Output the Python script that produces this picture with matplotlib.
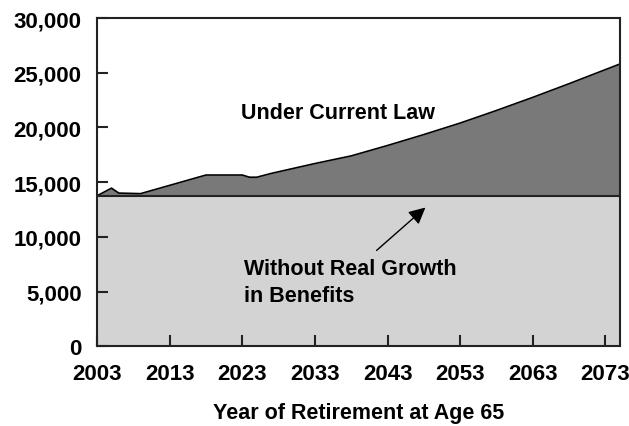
import matplotlib.pyplot as plt

plt.rcParams['font.family'] = ['Liberation Sans', 'DejaVu Sans']
plt.rcParams['font.weight'] = 'bold'

# Benefit levels
years = [2003, 2005, 2006, 2009, 2018, 2023, 2024, 2025, 2027, 2033, 2038,
         2043, 2048, 2053, 2058, 2063, 2068, 2075]
current_law = [13750, 14450, 14000, 13950, 15650, 15650, 15450, 15450, 15800,
               16700, 17400, 18350, 19350, 20400, 21550, 22750, 24000, 25800]
no_growth = 13750

xticks = [2003, 2013, 2023, 2033, 2043, 2053, 2063, 2073]
yticks = [0, 5000, 10000, 15000, 20000, 25000, 30000]

fig = plt.figure(figsize=(6.29, 4.27), dpi=100)
ax = fig.add_axes([0.1542, 0.1867, 0.8315, 0.7688])

ax.fill_between([years[0], years[-1]], 0, no_growth, color='#d3d3d3', lw=0)
ax.fill_between(years, no_growth, current_law, color='#787978', lw=0)
ax.plot(years, current_law, color='black', lw=1.2)
ax.axhline(no_growth, color='#222222', lw=1.5)

ax.set_xlim(2003, 2075)
ax.set_ylim(0, 30000)
ax.set_xticks(xticks)
ax.set_yticks(yticks)
ax.set_yticklabels([f'{v:,}' for v in yticks])
ax.tick_params(direction='in', length=8, width=1.5, labelsize=16, color='#222222')
ax.tick_params(axis='x', pad=12)
ax.tick_params(axis='y', pad=11)
for lbl in ax.get_xticklabels() + ax.get_yticklabels():
    lbl.set_fontweight('bold')
for s in ax.spines.values():
    s.set_linewidth(1.5)
    s.set_color('#222222')

ax.set_xlabel('Year of Retirement at Age 65', fontsize=15.5, fontweight='bold', labelpad=13)

ax.text(2022.8, 21400, 'Under Current Law', fontsize=15.5, fontweight='bold', va='center')
ax.text(2023.2, 5850, 'Without Real Growth\nin Benefits', fontsize=15.5, fontweight='bold',
        va='center', linespacing=1.35)
ax.annotate('', xy=(2048.5, 12850), xytext=(2041.2, 8590),
            arrowprops=dict(arrowstyle='-|>', color='black', lw=1, mutation_scale=25))

fig.savefig('out.png', dpi=100)
